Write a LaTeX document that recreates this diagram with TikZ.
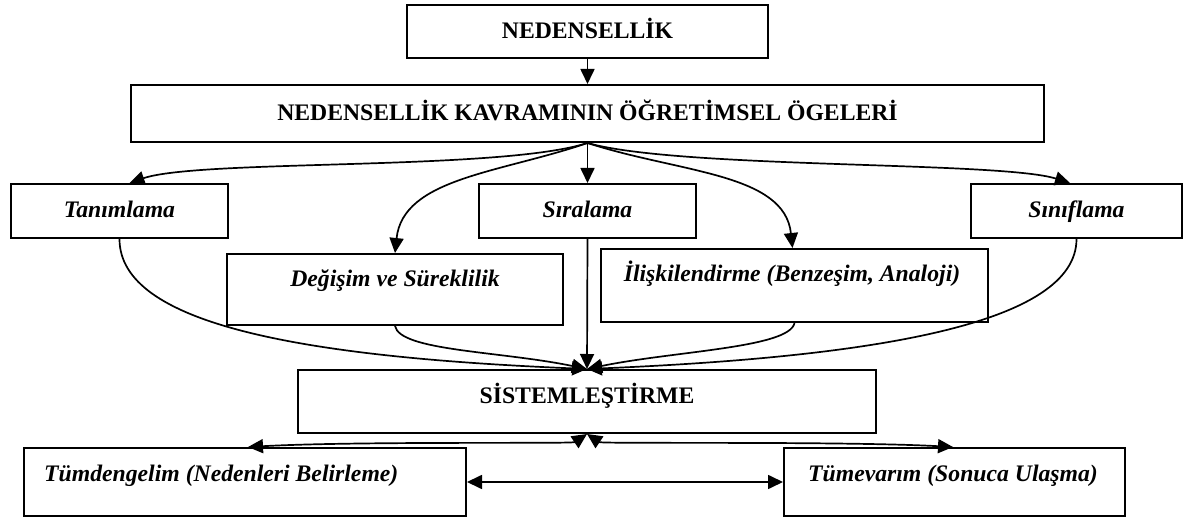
\documentclass[tikz,border=0pt]{standalone}
\usepackage{fontspec}
\setmainfont{Liberation Serif}
\usetikzlibrary{arrows.meta}
\begin{document}
\begin{tikzpicture}[x=1pt,y=1pt,
  box/.style={draw, line width=2pt, inner sep=0pt},
  lbl/.style={font=\fontsize{23.7}{28}\selectfont\bfseries, inner sep=0pt, anchor=base},
  lbli/.style={font=\fontsize{23.7}{28}\selectfont\bfseries\itshape, inner sep=0pt, anchor=base},
  conn/.style={line width=1.7pt, -{Triangle[length=15pt,width=14pt]}},
  dconn/.style={line width=1.7pt, {Triangle[length=15pt,width=14pt]}-{Triangle[length=15pt,width=14pt]}}]
\useasboundingbox (0,0) rectangle (1184,-518);

% boxes
\node[box, minimum width=361pt, minimum height=53pt] (ned) at (587.5,-31.5) {};
\node[box, minimum width=913pt, minimum height=57pt] (kav) at (587.5,-113.5) {};
\node[box, minimum width=217pt, minimum height=54pt] (tan) at (119.5,-211) {};
\node[box, minimum width=217pt, minimum height=54pt] (sir) at (587.5,-211) {};
\node[box, minimum width=211pt, minimum height=54pt] (sin) at (1076.5,-211) {};
\node[box, minimum width=336pt, minimum height=71pt] (deg) at (395,-289.5) {};
\node[box, minimum width=387pt, minimum height=73pt] (ili) at (794.5,-285.5) {};
\node[box, minimum width=578pt, minimum height=63pt] (sis) at (587,-401.5) {};
\node[box, minimum width=442pt, minimum height=68pt] (tdg) at (245,-482) {};
\node[box, minimum width=341pt, minimum height=68pt] (tmv) at (954.5,-482) {};

% texts
\node[lbl] (nedt) at (587.5,-38.5) {NEDENSELLİK};
\node[lbl] (kavt) at (587.5,-121) {NEDENSELLİK KAVRAMININ ÖĞRETİMSEL ÖGELERİ};
\node[lbli] (tant) at (119.5,-218) {Tanımlama};
\node[lbli] (sirt) at (587.5,-218) {Sıralama};
\node[lbli] (sint) at (1076.5,-218) {Sınıflama};
\node[lbli] (degt) at (395,-286.5) {Değişim ve Süreklilik};
\node[lbli] (ilit) at (792,-281.5) {İlişkilendirme (Benzeşim, Analoji)};
\node[lbl] (sist) at (587,-404) {SİSTEMLEŞTİRME};
\node[lbli, anchor=base west] (tdgt) at (44,-482) {Tümdengelim (Nedenleri Belirleme)};
\node[lbli] (tmvt) at (953,-482) {Tümevarım (Sonuca Ulaşma)};

% top arrow
\draw[conn] (ned.south) -- (kav.north);

% fan out
\draw[conn] (kav.south) .. controls +(-87.5,-28) and +(70,24) .. ([xshift=10pt]tan.north);
\draw[conn] (kav.south) .. controls +(-87.5,-30) and +(8,75) .. (deg.north);
\draw[conn] (kav.south) -- (sir.north);
\draw[conn] (kav.south) .. controls +(92.5,-30) and +(-8,75) .. ([xshift=-2pt]ili.north);
\draw[conn] (kav.south) .. controls +(92.5,-26) and +(-70,22) .. ([xshift=-6.5pt]sin.north);

% merge into SİSTEMLEŞTİRME
\draw[conn] (tan.south) .. controls +(0,-85) and +(-287,12) .. (sis.north);
\draw[conn] (deg.south) .. controls +(5,-25) and +(-87,18) .. (sis.north);
\draw[conn] (sir.south) -- (sis.north);
\draw[conn] (ili.south) .. controls +(-5,-25) and +(87,18) .. (sis.north);
\draw[conn] (sin.south) .. controls +(0,-85) and +(287,12) .. (sis.north);

% bottom
\draw[dconn] ([xshift=3pt]tdg.north) .. controls +(110,6) and +(-15,-10) .. (sis.south);
\draw[dconn] (sis.south) .. controls +(15,-10) and +(-110,6) .. ([xshift=-1.5pt]tmv.north);
\draw[dconn] (tdg.east) -- (tmv.west);
\end{tikzpicture}
\end{document}
